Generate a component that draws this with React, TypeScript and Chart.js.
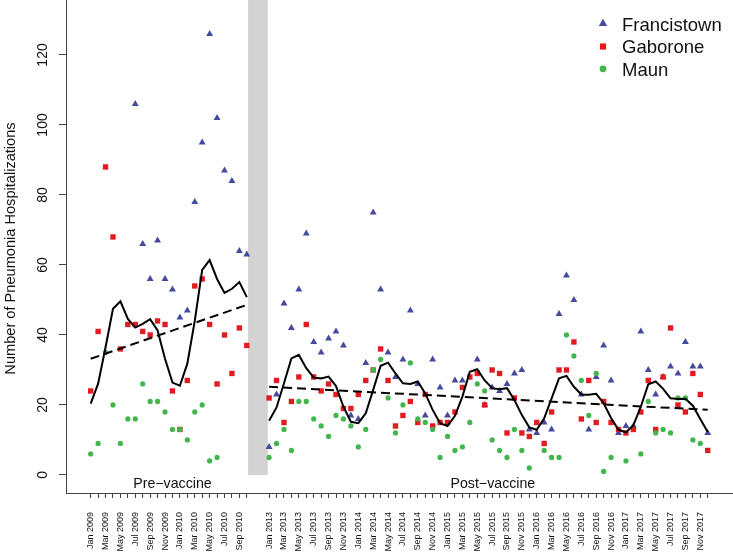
import React, { useEffect, useRef } from 'react';
import { Chart, registerables } from 'chart.js';

Chart.register(...registerables);

// ---------- categories / tick labels ----------
const MONTH_NAMES = ['Jan', 'Feb', 'Mar', 'Apr', 'May', 'Jun', 'Jul', 'Aug', 'Sep', 'Oct', 'Nov', 'Dec'];
const PRE_YEARS = [2009, 2010];
const POST_YEARS = [2013, 2014, 2015, 2016, 2017];
const PRE_MONTHS = 22; // Jan 2009 – Oct 2010
const GAP_SLOTS = 2; // empty axis slots between the two periods

const monthsOf = (years: number[]) => years.flatMap((y) => MONTH_NAMES.map((m) => `${m} ${y}`));
const preLabels = monthsOf(PRE_YEARS).slice(0, PRE_MONTHS);
const postLabels = monthsOf(POST_YEARS);

const Y_TICKS = [0, 20, 40, 60, 80, 100, 120];

// ---------- series values (pre-vaccine) ----------
const francistownPre = [null, null, null, null, null, null, 106, 66, 56, 67, 56, 53, 45, 47, 78, 95, 126, 102, 87, 84, 64, 63];
const gaboronePre = [24, 41, 88, 68, 36, 43, 43, 41, 40, 44, 43, 24, 13, 27, 54, 56, 43, 26, 40, 29, 42, 37];
const maunPre = [6, 9, 35, 20, 9, 16, 16, 26, 21, 21, 18, 13, 13, 10, 18, 20, 4, 5, null, null, null, null];
const smoothPre = [20.4, 26.1, 36.5, 47.5, 49.6, 44.6, 42.1, 43.2, 44.5, 41.3, 33.2, 26.4, 25.5, 31.8, 44, 58.6, 61.4, 56, 52, 53.2, 55.1, 50.8];
const trendPre = [33.2, 48.6]; // first and last month

// ---------- series values (post-vaccine) ----------
const francistownPost = [
  8, 23, 49, 42, 53, 69, 38, 35, 39, 41, 37, 17,
  16, 32, 75, 53, 35, 28, 33, 47, 26, 17, 33, 25,
  17, 27, 27, null, 33, 20, 25, 24, 26, 29, 30, 13,
  12, 15, 13, 46, 57, 50, 23, 13, 28, 37, 27, 12,
  14, 14, 41, 30, 23, 28, 31, 29, 38, 31, 31, 12,
];
const gaboronePost = [
  22, 27, 15, 21, 28, 43, 28, 24, 26, 23, 19, 19,
  23, 27, 30, 36, 27, 14, 17, 21, 15, 23, 14, 15,
  15, 18, 25, 28, 29, 20, 30, 29, 12, 22, 12, 11,
  15, 9, 18, 30, 30, 38, 16, 27, 15, 21, 15, 13,
  12, 13, 18, 27, 13, 28, 42, 20, 18, 29, 23, 7,
];
const maunPost = [
  5, 9, 13, 7, 21, 21, 16, 14, 11, 17, 16, 14,
  8, 13, 30, 33, 22, 12, 20, 32, 16, 15, 13, 5,
  11, 7, 8, 15, 26, 24, 10, 7, 5, 13, 7, 2,
  null, 7, 5, 5, 40, 34, 27, 17, 29, 1, 5, null,
  4, null, 6, 21, 12, 13, 12, 22, 22, 10, 9, null,
];
const smoothPost = [
  15.5, 19.3, 26.2, 33.3, 34.3, 30.5, 27.8, 27.6, 28.1, 25.4, 19.5, 15.2,
  14.8, 17.6, 24.3, 31.2, 32.1, 29, 26.2, 26, 26.7, 23.3, 18.6, 14.8,
  14, 16.9, 22.4, 29.5, 30.2, 27, 24.8, 24.5, 24.8, 21.4, 17.1, 13.6,
  12.9, 16.2, 21.9, 27.6, 28.3, 25.2, 23, 22.9, 23.2, 20.5, 16.3, 12.9,
  12.2, 14.2, 19.5, 25.9, 26.7, 24.6, 21.9, 21.7, 21.8, 19.8, 16, 12.3,
];
const trendPost = [25.2, 18.6]; // first and last month

// ---------- positions on the axis ----------
const preX = preLabels.map((_, i) => i);
const postX = postLabels.map((_, i) => PRE_MONTHS + GAP_SLOTS + i);
const tickValues = [...preX, ...postX];
const tickLabelMap = new Map<number, string>();
preLabels.forEach((l, i) => { if (i % 2 === 0) tickLabelMap.set(preX[i], l); });
postLabels.forEach((l, i) => { if (i % 2 === 0) tickLabelMap.set(postX[i], l); });

const toPoints = (xs: number[], ys: (number | null)[]) =>
  xs.map((x, i) => ({ x, y: ys[i] })).filter((p) => p.y !== null) as { x: number; y: number }[];
const endPoints = (xs: number[], ys: number[]) => [
  { x: xs[0], y: ys[0] },
  { x: xs[xs.length - 1], y: ys[1] },
];

const BLUE = '#464a9e';
const RED = '#e11b1f';
const GREEN = '#42b64c';
const FONT = "'Liberation Sans', Arial, Helvetica, sans-serif";

const pointSet = (label: string, data: any[], color: string, style: string, radius: number, order: number) => ({
  label,
  data,
  showLine: false,
  pointStyle: style,
  pointRadius: radius,
  pointHoverRadius: radius,
  pointBackgroundColor: color,
  pointBorderColor: color,
  pointBorderWidth: 0,
  backgroundColor: color,
  borderColor: color,
  order,
});

const lineSet = (label: string, data: any[], dash: number[]) => ({
  label,
  data,
  showLine: true,
  borderColor: '#000',
  backgroundColor: '#000',
  borderWidth: 2,
  borderDash: dash,
  pointRadius: 0,
  pointHoverRadius: 0,
  tension: 0,
  fill: false,
  order: 0,
});

const decorPlugin = {
  id: 'decor',
  beforeDatasetsDraw(chart: any) {
    const { ctx, chartArea, scales } = chart;
    const x = scales.x;
    const y = scales.y;
    const x0 = x.getPixelForValue(PRE_MONTHS - 1 + 0.17);
    const x1 = x.getPixelForValue(PRE_MONTHS + GAP_SLOTS - 0.17);
    const yb = y.getPixelForValue(0);
    ctx.save();
    ctx.fillStyle = '#d3d3d3';
    ctx.fillRect(x0, chartArea.top, x1 - x0, yb - chartArea.top);
    ctx.restore();
  },
  afterDraw(chart: any) {
    const { ctx, scales } = chart;
    const x = scales.x;
    const y = scales.y;
    ctx.save();
    ctx.fillStyle = '#111';
    // y tick labels (rotated, parallel to axis)
    ctx.font = `14px ${FONT}`;
    ctx.textAlign = 'center';
    ctx.textBaseline = 'alphabetic';
    Y_TICKS.forEach((v) => {
      ctx.save();
      ctx.translate(47, y.getPixelForValue(v));
      ctx.rotate(-Math.PI / 2);
      ctx.fillText(String(v), 0, 0);
      ctx.restore();
    });
    // y axis title
    ctx.font = `14.6px ${FONT}`;
    ctx.save();
    ctx.translate(15, 248.5);
    ctx.rotate(-Math.PI / 2);
    ctx.fillText('Number of Pneumonia Hospitalizations', 0, 0);
    ctx.restore();
    // period labels
    ctx.font = `14.2px ${FONT}`;
    const baseY = y.getPixelForValue(-3.7);
    ctx.fillText('Pre\u2212vaccine', x.getPixelForValue(11), baseY);
    ctx.fillText('Post\u2212vaccine', x.getPixelForValue(54.1), baseY);
    // legend
    const items = [
      { label: 'Francistown', color: BLUE, style: 'triangle', cy: 23.5, base: 30.7 },
      { label: 'Gaborone', color: RED, style: 'rect', cy: 46.5, base: 53.4 },
      { label: 'Maun', color: GREEN, style: 'circle', cy: 68.8, base: 76 },
    ];
    const mx = 603;
    ctx.font = `18.5px ${FONT}`;
    ctx.textAlign = 'left';
    items.forEach((it) => {
      ctx.fillStyle = it.color;
      ctx.beginPath();
      if (it.style === 'triangle') {
        const r = 4.8;
        ctx.moveTo(mx, it.cy - r);
        ctx.lineTo(mx + 0.866 * r, it.cy + 0.5 * r);
        ctx.lineTo(mx - 0.866 * r, it.cy + 0.5 * r);
        ctx.closePath();
      } else if (it.style === 'rect') {
        ctx.rect(mx - 3.1, it.cy - 3.1, 6.2, 6.2);
      } else {
        ctx.arc(mx, it.cy, 3.4, 0, Math.PI * 2);
      }
      ctx.fill();
      ctx.fillStyle = '#111';
      ctx.fillText(it.label, 622, it.base);
    });
    ctx.restore();
  },
};

export default function App() {
  const ref = useRef<HTMLCanvasElement>(null);
  useEffect(() => {
    const canvas = ref.current;
    if (!canvas) return;
    const chart = new Chart(canvas, {
      type: 'scatter',
      data: {
        datasets: [
          lineSet('Trend (pre)', endPoints(preX, trendPre), [9, 5]),
          lineSet('Trend (post)', endPoints(postX, trendPost), [9, 5]),
          lineSet('Average (pre)', toPoints(preX, smoothPre), []),
          lineSet('Average (post)', toPoints(postX, smoothPost), []),
          pointSet('Maun', [...toPoints(preX, maunPre), ...toPoints(postX, maunPost)], GREEN, 'circle', 2.6, 1),
          pointSet('Gaborone', [...toPoints(preX, gaboronePre), ...toPoints(postX, gaboronePost)], RED, 'rect', 3.8, 2),
          pointSet('Francistown', [...toPoints(preX, francistownPre), ...toPoints(postX, francistownPost)], BLUE, 'triangle', 4, 3),
        ] as any,
      },
      options: {
        animation: false,
        responsive: false,
        devicePixelRatio: 1,
        layout: { padding: 0, autoPadding: false },
        events: [],
        plugins: {
          legend: { display: false },
          tooltip: { enabled: false },
          title: { display: false },
        },
        scales: {
          x: {
            type: 'linear',
            min: -3.32,
            max: 86.4,
            afterBuildTicks: (s: any) => { s.ticks = tickValues.map((v) => ({ value: v })); },
            afterFit: (s: any) => { s.height = 59; },
            grid: { display: true, drawOnChartArea: false, drawTicks: true, tickLength: 5, color: '#444', lineWidth: 1 },
            border: { display: true, color: '#444', width: 1 },
            ticks: {
              autoSkip: false,
              minRotation: 90,
              maxRotation: 90,
              padding: 14,
              color: '#111',
              font: { family: FONT, size: 9 },
              callback: (v: any) => tickLabelMap.get(Number(v)) ?? '',
            },
          },
          y: {
            type: 'linear',
            min: -5.15,
            max: 135.7,
            afterBuildTicks: (s: any) => { s.ticks = Y_TICKS.map((v) => ({ value: v })); },
            afterFit: (s: any) => { s.width = 66; },
            grid: { display: true, drawOnChartArea: false, drawTicks: true, tickLength: 7, color: '#444', lineWidth: 1 },
            border: { display: true, color: '#444', width: 1 },
            ticks: { display: false },
          },
        },
      } as any,
      plugins: [decorPlugin],
    });
    return () => chart.destroy();
  }, []);
  return (
    <div style={{ position: 'absolute', left: 0, top: 0, width: 733, height: 552, background: '#fff' }}>
      <canvas ref={ref} width={733} height={552} style={{ display: 'block' }} />
    </div>
  );
}
